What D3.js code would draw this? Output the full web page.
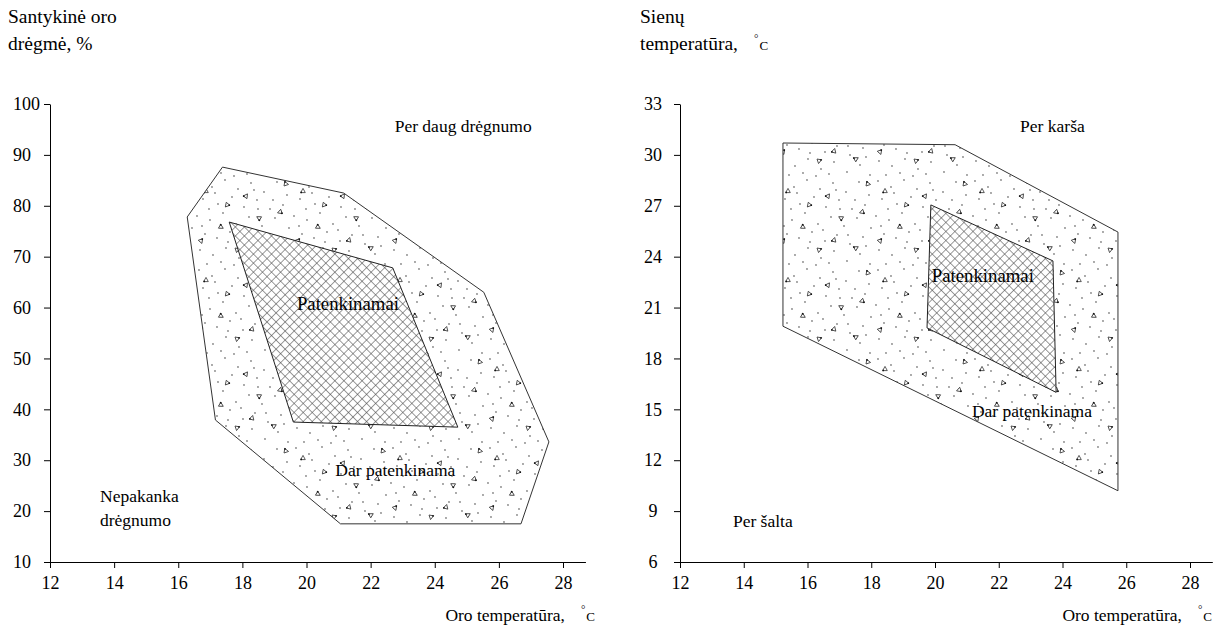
<!DOCTYPE html>
<html>
<head>
<meta charset="utf-8">
<script src="https://cdn.jsdelivr.net/npm/d3@7"></script>
<style>
  body { margin: 0; background: #fff; }
  svg { display: block; font-family: "Liberation Serif", "Times New Roman", serif; }
  .axis text { font-size: 18px; fill: #000; font-family: "Liberation Serif", serif; }
  .axis path, .axis line { stroke: #000; }
  .title { font-size: 19.5px; fill: #000; }
  .zone-label { font-size: 17.5px; fill: #000; }
</style>
</head>
<body>
<div id="chart"></div>
<script>
// tick values
const xTicks = [12, 14, 16, 18, 20, 22, 24, 26, 28];
const humidityTicks = [10, 20, 30, 40, 50, 60, 70, 80, 90, 100];
const wallTicks = [6, 9, 12, 15, 18, 21, 24, 27, 30, 33];

// zone outlines: [air temperature, value]
const humidityOuter = [
  [17.38, 87.6], [21.16, 82.5], [25.53, 63.0], [27.56, 33.6],
  [26.69, 17.5], [21.06, 17.5], [17.16, 37.9], [16.28, 77.8],
];
const humidityInner = [
  [17.59, 76.8], [22.69, 67.8], [24.72, 36.5], [19.59, 37.5],
];
const wallOuter = [
  [15.23, 30.7], [20.63, 30.6], [25.74, 25.45], [25.74, 10.2], [15.23, 19.9],
];
const wallInner = [
  [19.87, 27.05], [23.7, 23.75], [23.8, 16.0], [19.75, 19.8],
];

// zone labels: [text, x, y]
const humidityLabels = [
  ["Per daug drėgnumo", 22.75, 94.5],
  ["Nepakanka", 13.56, 21.8],
  ["drėgnumo", 13.56, 17.1],
  ["Patenkinamai", 19.7, 59.5],
  ["Dar patenkinama", 20.9, 26.9],
];
const wallLabels = [
  ["Per karša", 22.67, 31.35],
  ["Per šalta", 13.66, 8.06],
  ["Patenkinamai", 19.9, 22.5],
  ["Dar patenkinama", 21.16, 14.55],
];

// texture tile: dots and tiny triangles
const speckDots = [
  [5, 3], [18, 9], [31, 2], [44, 11], [57, 5], [70, 14], [83, 4], [93, 17],
  [9, 21], [24, 26], [38, 19], [50, 29], [63, 22], [76, 31], [89, 27],
  [3, 38], [16, 42], [29, 35], [42, 46], [55, 39], [68, 48], [81, 40], [95, 50],
  [11, 56], [23, 60], [36, 54], [49, 63], [61, 57], [74, 66], [87, 59],
  [6, 72], [19, 77], [32, 70], [45, 80], [58, 73], [71, 83], [84, 76], [94, 86],
  [13, 86], [27, 84], [40, 87], [53, 85], [21, 15], [47, 52], [79, 22],
  [34, 64], [60, 12], [90, 68], [8, 48], [72, 57], [64, 31], [15, 31],
];
const speckTriangles = [
  [12, 13, 0], [52, 18, 35], [86, 34, 250], [27, 49, 120], [65, 40, 300],
  [43, 72, 190], [80, 70, 60], [7, 63, 160], [58, 62, 15], [33, 27, 220], [92, 6, 100],
];

const width = 1223;
const height = 625;

const svg = d3.select("#chart").append("svg")
  .attr("width", width)
  .attr("height", height);

const defs = svg.append("defs");

const speck = defs.append("pattern")
  .attr("id", "speck")
  .attr("patternUnits", "userSpaceOnUse")
  .attr("width", 97)
  .attr("height", 89);
speck.append("rect").attr("width", 97).attr("height", 89).attr("fill", "#fff");
speck.selectAll("circle")
  .data(speckDots)
  .join("circle")
  .attr("cx", (d) => d[0])
  .attr("cy", (d) => d[1])
  .attr("r", 0.65)
  .attr("fill", "#111");
const tri = speck.selectAll("g")
  .data(speckTriangles)
  .join("g")
  .attr("transform", (d) => `translate(${d[0]},${d[1]}) rotate(${d[2]})`);
tri.append("path")
  .attr("d", "M0,-2.6L2.3,1.6L-2.3,1.6Z")
  .attr("fill", "none")
  .attr("stroke", "#333")
  .attr("stroke-width", 0.8);
tri.append("circle")
  .attr("cx", -1.8).attr("cy", 1.4).attr("r", 0.9)
  .attr("fill", "#111");

const hatch = defs.append("pattern")
  .attr("id", "hatch")
  .attr("patternUnits", "userSpaceOnUse")
  .attr("width", 6.4)
  .attr("height", 6.4)
  .attr("patternTransform", "rotate(45)");
hatch.append("rect").attr("width", 6.4).attr("height", 6.4).attr("fill", "#fff");
hatch.append("line").attr("x1", 0).attr("y1", 0).attr("x2", 6.4).attr("y2", 0)
  .attr("stroke", "#4a4a4a").attr("stroke-width", 1.1);
hatch.append("line").attr("x1", 0).attr("y1", 0).attr("x2", 0).attr("y2", 6.4)
  .attr("stroke", "#4a4a4a").attr("stroke-width", 1.1);

renderPanel({
  left: 50, right: 563, top: 104, bottom: 562,
  yDomain: [10, 100], yTicks: humidityTicks,
  tickLabelX: 13, tickAnchor: "start",
  outer: humidityOuter, inner: humidityInner, labels: humidityLabels,
  titleX: 8, titleLines: ["Santykinė oro", "drėgmė, %"], degree: false,
  xTitleEnd: 595,
});

renderPanel({
  left: 680, right: 1190, top: 104, bottom: 562,
  yDomain: [6, 33], yTicks: wallTicks,
  tickLabelX: 653, tickAnchor: "middle",
  outer: wallOuter, inner: wallInner, labels: wallLabels,
  titleX: 640, titleLines: ["Sienų", "temperatūra,"], degree: true,
  xTitleEnd: 1212,
});

function renderPanel(cfg) {
  const x = d3.scaleLinear().domain([12, 28]).range([cfg.left, cfg.right]);
  const y = d3.scaleLinear().domain(cfg.yDomain).range([cfg.bottom, cfg.top]);
  const xFull = x.copy().domain([12, 28.7]).range([cfg.left, x(28.7)]);
  const line = d3.line().x((d) => x(d[0])).y((d) => y(d[1])).curve(d3.curveLinearClosed);

  const g = svg.append("g");

  g.append("path")
    .attr("d", line(cfg.outer))
    .attr("fill", "url(#speck)")
    .attr("stroke", "#333")
    .attr("stroke-width", 1);

  g.append("path")
    .attr("d", line(cfg.inner))
    .attr("fill", "url(#hatch)")
    .attr("stroke", "#222")
    .attr("stroke-width", 1);

  g.selectAll(".zone-label")
    .data(cfg.labels)
    .join("text")
    .attr("class", "zone-label")
    .attr("x", (d) => x(d[1]))
    .attr("y", (d) => y(d[2]))
    .style("font-size", (d) => (d[0] === "Patenkinamai" ? "18.75px" : null))
    .text((d) => d[0]);

  g.append("g")
    .attr("class", "axis axis-x")
    .attr("transform", `translate(0,${cfg.bottom})`)
    .call(d3.axisBottom(xFull).tickValues(xTicks).tickSize(6).tickSizeOuter(0).tickPadding(8));

  g.append("g")
    .attr("class", "axis axis-y")
    .attr("transform", `translate(${cfg.left},0)`)
    .call(d3.axisLeft(y).tickValues(cfg.yTicks).tickSize(6).tickSizeOuter(0))
    .call((a) => a.selectAll(".tick text")
      .attr("text-anchor", cfg.tickAnchor)
      .attr("x", cfg.tickLabelX - cfg.left));

  const title = g.append("text").attr("class", "title");
  cfg.titleLines.forEach((t, i) => {
    title.append("tspan").attr("x", cfg.titleX).attr("y", 23 + i * 27).text(t);
  });
  if (cfg.degree) {
    appendDegree(title);
  }

  const xTitle = g.append("text")
    .attr("class", "title")
    .attr("x", cfg.xTitleEnd)
    .attr("y", 621)
    .attr("text-anchor", "end")
    .style("font-size", "17.5px")
    .text("Oro temperatūra,");
  appendDegree(xTitle);
}

function appendDegree(text) {
  text.append("tspan").attr("dx", 16).attr("dy", -8).attr("font-size", 11).text("°");
  text.append("tspan").attr("dx", 1).attr("dy", 8).attr("font-size", 13).text("C");
}
</script>
</body>
</html>
